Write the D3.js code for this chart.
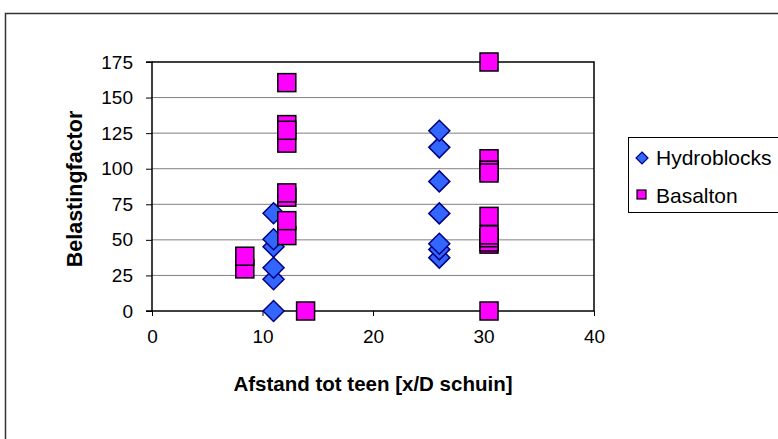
<!DOCTYPE html>
<html><head><meta charset="utf-8">
<script src="https://cdn.jsdelivr.net/npm/d3@7"></script>
<style>
html,body{margin:0;padding:0;background:#fff;}
text{font-family:"Liberation Sans",Arial,sans-serif;}
</style></head>
<body>
<script>
// ---- data ----
const hydroX = [11, 11, 11, 11, 11, 11, 26, 26, 26, 26, 26, 26, 26];
const hydroY = [0, 22.3, 30.4, 45.2, 50.4, 68.7, 37.5, 43.3, 47.3, 68.6, 91.1, 115, 126.7];
const basX = [8.4, 8.4, 12.2, 12.2, 12.2, 12.2, 12.2, 12.2, 12.2, 12.2, 13.9,
              30.5, 30.5, 30.5, 30.5, 30.5, 30.5, 30.5, 30.5, 30.5, 30.5];
const basY = [29.6, 38.5, 160.5, 131, 118, 127, 80, 83, 53, 63.5, 0,
              175, 107, 99, 97, 47, 48.5, 51.5, 53.5, 66.5, 0];
const xTicks = [0, 10, 20, 30, 40];
const yTicks = [0, 25, 50, 75, 100, 125, 150, 175];
const seriesNames = ["Hydroblocks", "Basalton"];
const xTitle = "Afstand tot teen [x/D schuin]";
const yTitle = "Belastingfactor";

const W = 778, H = 439;
const svg = d3.select("body").append("svg").attr("width", W).attr("height", H);
svg.append("rect").attr("width", W).attr("height", H).attr("fill", "#fff");
// outer chart border
svg.append("rect").attr("x", 5.5).attr("y", 13.5).attr("width", 900).attr("height", 600)
  .attr("fill", "none").attr("stroke", "#333").attr("stroke-width", 1.5);

const L = 152, R = 594, T = 62, B = 311;
const x = d3.scaleLinear().domain([0, 40]).range([L, R]);
const y = d3.scaleLinear().domain([0, 175]).range([B, T]);

// gridlines
svg.append("g").selectAll("line").data(yTicks.filter(d => d > 0 && d < 175)).join("line")
  .attr("x1", L).attr("x2", R).attr("y1", d => y(d)).attr("y2", d => y(d))
  .attr("stroke", "#808080").attr("stroke-width", 1);
// plot border (top, right)
svg.append("path").attr("d", `M${L},${T}H${R}V${B}`).attr("fill", "none")
  .attr("stroke", "#000").attr("stroke-width", 1.5);

// axes
const yAxis = svg.append("g").attr("transform", `translate(${L},0)`)
  .call(d3.axisLeft(y).tickValues(yTicks).tickSize(6).tickPadding(13));
const xAxis = svg.append("g").attr("transform", `translate(0,${B})`)
  .call(d3.axisBottom(x).tickValues(xTicks).tickSize(5).tickPadding(14));
[yAxis, xAxis].forEach(g => {
  g.select(".domain").attr("stroke", "#000").attr("stroke-width", 1.5);
  g.selectAll(".tick line").attr("stroke", "#000").attr("stroke-width", 1);
  g.selectAll(".tick text").attr("fill", "#000").style("font-size", "19px")
    .style("font-family", '"Liberation Sans",Arial,sans-serif');
});
yAxis.select(".domain").attr("d", `M-6,${B}H0V${T}H-6`);
xAxis.select(".domain").attr("d", `M${L},0H${R}`);

// titles
svg.append("text").attr("x", 373).attr("y", 391).attr("text-anchor", "middle")
  .style("font-size", "20.5px").style("font-weight", "bold").text(xTitle);
svg.append("text").attr("transform", "translate(82,189) rotate(-90)").attr("text-anchor", "middle")
  .style("font-size", "21.5px").style("font-weight", "bold").text(yTitle);

// points
const diamond = (s) => `M0,${-s}L${s},0L0,${s}L${-s},0Z`;
svg.append("g").selectAll("path").data(hydroX.map((d, i) => [d, hydroY[i]])).join("path")
  .attr("transform", d => `translate(${x(d[0])},${y(d[1])})`)
  .attr("d", diamond(10.5)).attr("fill", "#3366FF").attr("stroke", "#000080").attr("stroke-width", 1.5);
svg.append("g").selectAll("rect").data(basX.map((d, i) => [d, basY[i]])).join("rect")
  .attr("x", d => x(d[0]) - 9).attr("y", d => y(d[1]) - 9).attr("width", 18).attr("height", 18)
  .attr("fill", "#FF00FF").attr("stroke", "#000").attr("stroke-width", 1.5);

// legend
const lg = svg.append("g");
lg.append("rect").attr("x", 628.5).attr("y", 137.5).attr("width", 200).attr("height", 75)
  .attr("fill", "#fff").attr("stroke", "#000").attr("stroke-width", 1);
lg.append("path").attr("transform", "translate(642,158)").attr("d", diamond(6))
  .attr("fill", "#3366FF").attr("stroke", "#000080").attr("stroke-width", 1.2);
lg.append("rect").attr("x", 637).attr("y", 190).attr("width", 9).attr("height", 9)
  .attr("fill", "#FF00FF").attr("stroke", "#000").attr("stroke-width", 1.2);
lg.selectAll("text.lt").data(seriesNames).join("text").attr("class", "lt")
  .attr("x", 656).attr("y", (d, i) => 164.5 + i * 38.5)
  .style("font-size", "21px").text(d => d);
</script>
</body></html>
